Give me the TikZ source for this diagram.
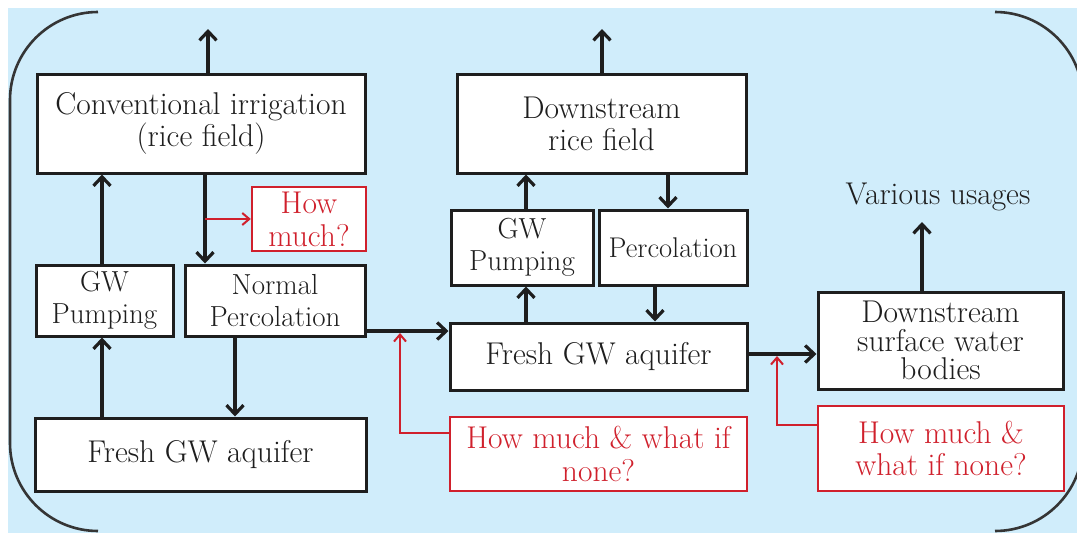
\documentclass[tikz,border=0pt]{standalone}
\usepackage{fontspec}
\usetikzlibrary{arrows.meta}
\definecolor{bgblue}{RGB}{208,237,251}
\definecolor{ink}{RGB}{30,30,30}
\definecolor{qred}{RGB}{208,32,44}
\begin{document}
\begin{tikzpicture}[x=1pt,y=-1pt,
  box/.style={draw=ink, line width=3pt, fill=white, inner sep=0pt, align=center,
    text=ink, font=\fontsize{31.5}{32}\selectfont},
  qbox/.style={box, draw=qred, line width=2.4pt, text=qred},
  arr/.style={draw=ink, line width=3.2pt, -{Straight Barb[length=9pt,width=17pt]}},
  rarr/.style={draw=qred, line width=2pt, -{Straight Barb[length=7pt,width=12pt]}},
  border/.style={draw=ink!90, line width=2.6pt},
  plain/.style={inner sep=0pt, text=ink, font=\fontsize{31.5}{32}\selectfont}]
\useasboundingbox (0,0) rectangle (1077,533);
\fill[white] (0,0) rectangle (1077,533);
\fill[bgblue] (8,8) rectangle (1077,533);
\begin{scope}
\clip (0,0) rectangle (1077,533);
\draw[border] (98,12) arc[start angle=270, end angle=180, radius=88] -- (10,443)
  arc[start angle=180, end angle=90, radius=88];
\draw[border] (995,12) arc[start angle=270, end angle=360, radius=88] -- (1083,443)
  arc[start angle=0, end angle=90, radius=88];
\end{scope}

% left column
\node[box, minimum width=328pt, minimum height=99pt] (conv) at (201,123.5) {Conventional irrigation\\(rice field)};
\node[box, minimum width=137pt, minimum height=71pt, font=\fontsize{29}{32}\selectfont] (gwp1) at (104.5,300.5) {GW\\Pumping};
\node[box, minimum width=180pt, minimum height=71pt, font=\fontsize{29}{32}\selectfont] (perc1) at (275,300.5) {Normal\\Percolation};
\node[qbox, minimum width=114pt, minimum height=64pt, font=\fontsize{31.5}{33}\selectfont] (howm) at (309,219) {How\\much?};
\node[box, minimum width=331pt, minimum height=73pt] (fresh1) at (200.5,454.5) {Fresh GW aquifer};

% middle column
\node[box, minimum width=289pt, minimum height=99pt] (drf) at (601.5,123.5) {Downstream\\rice field};
\node[box, minimum width=142pt, minimum height=75pt, font=\fontsize{29}{32}\selectfont] (gwp2) at (522,247.5) {GW\\Pumping};
\node[box, minimum width=148pt, minimum height=75pt, font=\fontsize{28.5}{32}\selectfont] (perc2) at (673,247.5) {Percolation};
\node[box, minimum width=297pt, minimum height=67pt] (fresh2) at (598.5,356.5) {Fresh GW aquifer};
\node[qbox, minimum width=297pt, minimum height=74pt, font=\fontsize{31.5}{33}\selectfont] (q2) at (598.5,454) {How much \& what if\\none?};

% right column
\node[box, minimum width=245pt, minimum height=97pt, font=\fontsize{31.5}{28.5}\selectfont] (dsw) at (940.5,340.5) {Downstream\\surface water\\bodies};
\node[qbox, minimum width=246pt, minimum height=85pt] (q3) at (941,448.5) {How much \&\\what if none?};
\node[plain] (use) at (938,197) {Various usages};

% helper coordinates
\coordinate (t1) at (208,29);
\coordinate (t2) at (602,29);
\coordinate (xa) at (102,0);
\coordinate (xb) at (205,0);
\coordinate (xc) at (235,0);
\coordinate (xd) at (526,0);
\coordinate (xe) at (668,0);
\coordinate (xf) at (655,0);
\coordinate (xg) at (922,0);
\coordinate (ya) at (0,331);
\coordinate (yb) at (0,354);
\coordinate (u1) at (922,222);
\coordinate (r1) at (400,433);
\coordinate (r1t) at (400,333);
\coordinate (r2) at (777,425);
\coordinate (r2t) at (777,356);

% black connectors
\draw[arr] (conv.north -| t1) -- (t1);
\draw[arr] (drf.north -| t2) -- (t2);
\draw[arr] (gwp1.north -| xa) -- (conv.south -| xa);
\draw[arr] (fresh1.north -| xa) -- (gwp1.south -| xa);
\draw[arr] (conv.south -| xb) -- (perc1.north -| xb);
\draw[arr] (perc1.south -| xc) -- (fresh1.north -| xc);
\draw[arr] (perc1.east |- ya) -- (fresh2.west |- ya);
\draw[arr] (gwp2.north -| xd) -- (drf.south -| xd);
\draw[arr] (fresh2.north -| xd) -- (gwp2.south -| xd);
\draw[arr] (drf.south -| xe) -- (perc2.north -| xe);
\draw[arr] (perc2.south -| xf) -- (fresh2.north -| xf);
\draw[arr] (fresh2.east |- yb) -- (dsw.west |- yb);
\draw[arr] (dsw.north -| xg) -- (u1);

% red connectors
\draw[rarr] (howm.west -| xb) -- (howm.west);
\draw[rarr] (q2.west |- r1) -- (r1) -- (r1t);
\draw[rarr] (q3.west |- r2) -- (r2) -- (r2t);
\end{tikzpicture}
\end{document}
